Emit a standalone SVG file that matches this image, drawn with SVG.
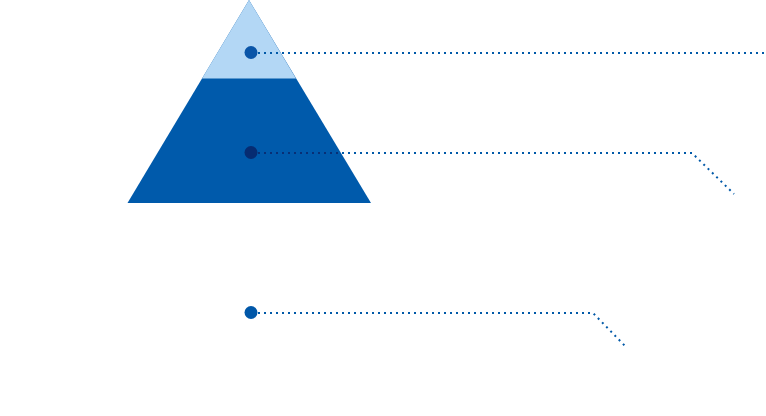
<svg xmlns="http://www.w3.org/2000/svg" width="766" height="416" viewBox="0 0 766 416">
<style>
.lead{fill:none;stroke:#0059a8;stroke-width:2;stroke-dasharray:2 4}
.lead-dark{stroke:#082f75}
</style>
<defs>
<clipPath id="pyrClip"><polygon points="249,0 127.5,203 371,203"/></clipPath>
</defs>
<rect width="766" height="416" fill="#ffffff"/>
<g id="pyramid">
<polygon points="249,0 127.5,203 371,203" fill="#005aab"/>
<polygon points="249,0 202,78.5 296,78.5" fill="#b3d7f5"/>
</g>
<g id="connectors">
<path class="lead" d="M258,53 H766"/>
<path class="lead" d="M258,153 H692 L734,194"/>
<path class="lead lead-dark" clip-path="url(#pyrClip)" d="M258,153 H692"/>
<path class="lead" d="M258,313 H593 L627,348"/>
</g>
<g id="node-top"><circle cx="251" cy="52.5" r="6.5" fill="#0a55a8"/></g>
<g id="node-middle"><circle cx="251" cy="152.5" r="6.5" fill="#062c72"/></g>
<g id="node-bottom"><circle cx="251" cy="312.5" r="6.5" fill="#0057a8"/></g>
</svg>
